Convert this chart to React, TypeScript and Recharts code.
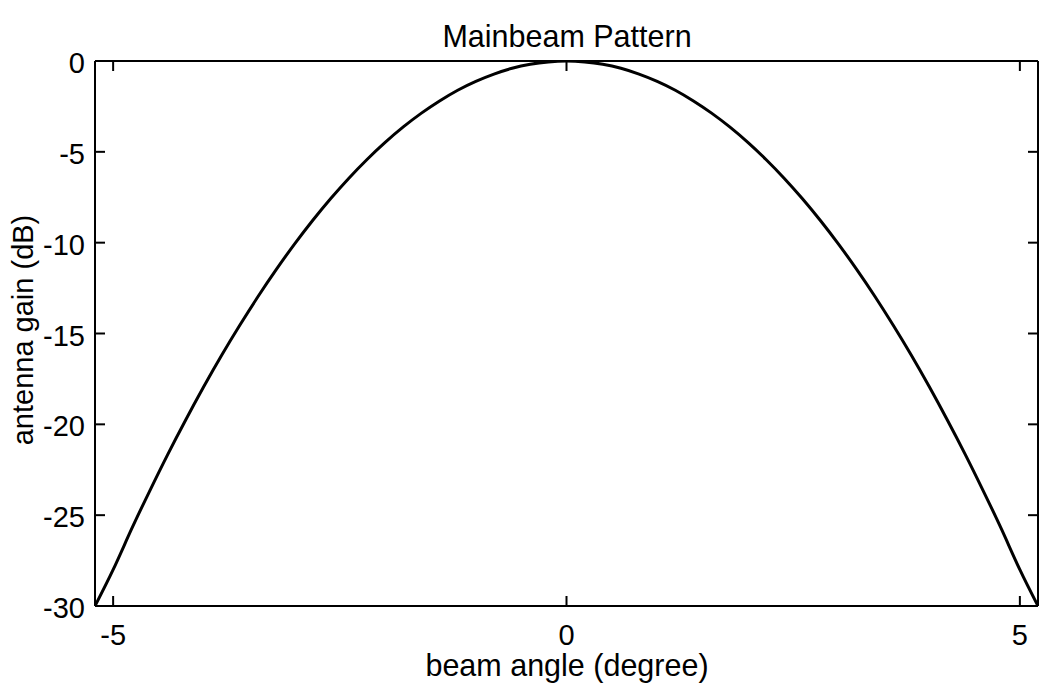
import React from 'react';
import { LineChart, Line, XAxis, YAxis } from 'recharts';

// beam angle samples (degree) and the gain read at each one (dB)
const angles = [
  -5.2, -5.0, -4.8, -4.6, -4.4, -4.2, -4.0, -3.8, -3.6, -3.4, -3.2, -3.0, -2.8,
  -2.6, -2.4, -2.2, -2.0, -1.8, -1.6, -1.4, -1.2, -1.0, -0.8, -0.6, -0.4, -0.2,
  0,
  0.2, 0.4, 0.6, 0.8, 1.0, 1.2, 1.4, 1.6, 1.8, 2.0, 2.2, 2.4, 2.6,
  2.8, 3.0, 3.2, 3.4, 3.6, 3.8, 4.0, 4.2, 4.4, 4.6, 4.8, 5.0, 5.2,
];
const gainDb = [
  -30.0, -28.0, -25.8, -23.7, -21.68, -19.76, -17.92, -16.17, -14.52, -12.95, -11.47, -10.08, -8.78,
  -7.57, -6.45, -5.42, -4.48, -3.63, -2.87, -2.2, -1.61, -1.12, -0.72, -0.4, -0.18, -0.05,
  0,
  -0.05, -0.18, -0.4, -0.72, -1.12, -1.61, -2.2, -2.87, -3.63, -4.48, -5.42, -6.45, -7.57,
  -8.78, -10.08, -11.47, -12.95, -14.52, -16.17, -17.92, -19.76, -21.68, -23.7, -25.8, -28.0, -30.0,
];

const xTicks = [-5, 0, 5];
const yTicks = [0, -5, -10, -15, -20, -25, -30];

const title = 'Mainbeam Pattern';
const xLabel = 'beam angle (degree)';
const yLabel = 'antenna gain (dB)';

const FONT = '"Liberation Sans", Arial, Helvetica, sans-serif';
const TICK_LEN = 10;

const rows = angles.map((angle, i) => ({ angle, gain: gainDb[i] }));

// MATLAB-style box: ticks point into the plot on all four sides
const BottomTick = (props: any) => {
  const { x, y, payload } = props;
  return (
    <g>
      <line x1={x} y1={y} x2={x} y2={y - TICK_LEN} stroke="#000" strokeWidth={2} />
      <text x={x} y={y + 39} textAnchor="middle" fontFamily={FONT} fontSize={29} fill="#000">
        {payload.value}
      </text>
    </g>
  );
};

const TopTick = (props: any) => {
  const { x, y } = props;
  return <line x1={x} y1={y} x2={x} y2={y + TICK_LEN} stroke="#000" strokeWidth={2} />;
};

const LeftTick = (props: any) => {
  const { x, y, payload } = props;
  return (
    <g>
      <line x1={x} y1={y} x2={x + TICK_LEN} y2={y} stroke="#000" strokeWidth={2} />
      <text x={x - 10} y={y + 12} textAnchor="end" fontFamily={FONT} fontSize={29} fill="#000">
        {payload.value}
      </text>
    </g>
  );
};

const RightTick = (props: any) => {
  const { x, y } = props;
  return <line x1={x} y1={y} x2={x - TICK_LEN} y2={y} stroke="#000" strokeWidth={2} />;
};

const App = () => {
  const axisLine = { stroke: '#000', strokeWidth: 2 };
  return (
    <div style={{ position: 'absolute', left: 0, top: 0, width: 1040, height: 692, background: '#fff' }}>
      <LineChart
        width={1040}
        height={692}
        data={rows}
        margin={{ top: 60, right: 1, bottom: 0, left: 0 }}
      >
        <XAxis
          dataKey="angle"
          type="number"
          domain={[-5.2, 5.2]}
          ticks={xTicks}
          allowDataOverflow
          height={86}
          tickSize={0}
          tickMargin={0}
          tickLine={false}
          axisLine={axisLine}
          tick={(p: any) => <BottomTick {...p} />}
        />
        <XAxis
          xAxisId="top"
          orientation="top"
          dataKey="angle"
          type="number"
          domain={[-5.2, 5.2]}
          ticks={xTicks}
          allowDataOverflow
          height={1}
          tickSize={0}
          tickMargin={0}
          tickLine={false}
          axisLine={axisLine}
          tick={(p: any) => <TopTick {...p} />}
        />
        <YAxis
          type="number"
          domain={[-30, 0]}
          ticks={yTicks}
          allowDataOverflow
          width={95}
          tickSize={0}
          tickMargin={0}
          tickLine={false}
          axisLine={axisLine}
          tick={(p: any) => <LeftTick {...p} />}
        />
        <YAxis
          yAxisId="right"
          orientation="right"
          type="number"
          domain={[-30, 0]}
          ticks={yTicks}
          allowDataOverflow
          width={1}
          tickSize={0}
          tickMargin={0}
          tickLine={false}
          axisLine={axisLine}
          tick={(p: any) => <RightTick {...p} />}
        />
        <Line
          dataKey="gain"
          type="natural"
          stroke="#000"
          strokeWidth={3}
          dot={false}
          activeDot={false}
          isAnimationActive={false}
        />
      </LineChart>
      <svg
        width={1040}
        height={692}
        style={{ position: 'absolute', left: 0, top: 0, pointerEvents: 'none' }}
      >
        <text x={567} y={47} textAnchor="middle" fontFamily={FONT} fontSize={30.5} fill="#000">
          {title}
        </text>
        <text x={567} y={676} textAnchor="middle" fontFamily={FONT} fontSize={30.5} fill="#000">
          {xLabel}
        </text>
        <text
          x={0}
          y={0}
          transform="translate(33,330) rotate(-90)"
          textAnchor="middle"
          fontFamily={FONT}
          fontSize={29}
          fill="#000"
        >
          {yLabel}
        </text>
      </svg>
    </div>
  );
};

export default App;
